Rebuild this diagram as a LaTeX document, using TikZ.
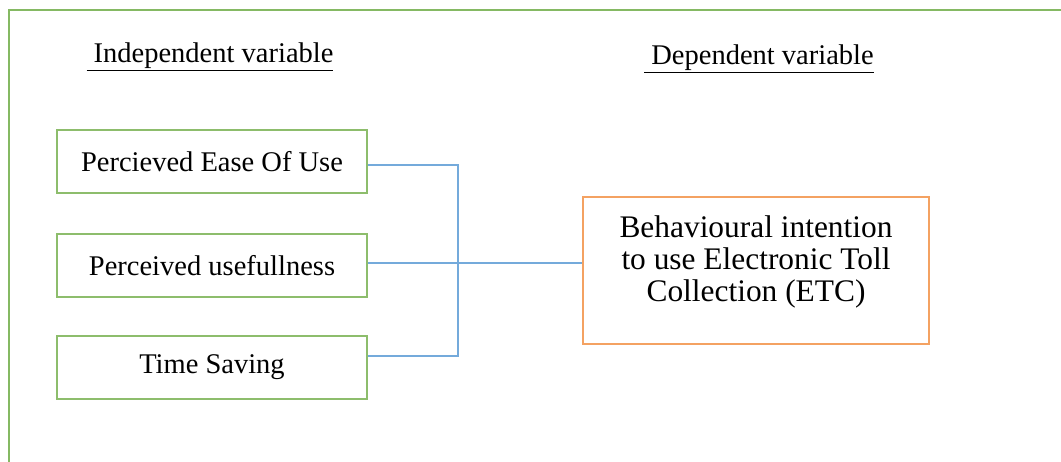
\documentclass[tikz,border=0pt]{standalone}
\usepackage{fontspec}
\setmainfont{Liberation Serif}
\definecolor{framegreen}{HTML}{70AD47}
\definecolor{linkblue}{HTML}{5B9BD5}
\definecolor{etcorange}{HTML}{F4A262}
\begin{document}
\begin{tikzpicture}[x=1pt,y=-1pt,
	varbox/.style={draw=framegreen!80,line width=2pt,minimum width=310,minimum height=63,inner sep=0pt,font=\fontsize{28.5}{32}\selectfont},
	etcbox/.style={draw=etcorange,line width=1.5pt,minimum width=346,minimum height=147,inner sep=0pt,align=center,font=\fontsize{31.4}{32}\selectfont},
	heading/.style={inner sep=0pt,anchor=base,font=\fontsize{28.5}{32}\selectfont},
	link/.style={draw=linkblue!85,line width=2pt}]
	\useasboundingbox (0,0) rectangle (1061,462);
	\draw[framegreen!85,line width=2pt] (1061,10) -- (9,10) -- (9,462);
	\node[heading] (indep) at (210,63) {\underline{\ Independent variable}};
	\node[heading] (dep) at (759,65) {\underline{\ Dependent variable}};
	\node[varbox] (ease) at (212,162) {Percieved Ease Of Use};
	\node[varbox] (useful) at (212,265.5) {Perceived usefullness};
	\node[varbox] (time) at (212,367.5) {Time Saving};
	\node[etcbox] (etc) at (756,270.5) {Behavioural intention\\to use Electronic Toll\\Collection (ETC)\\[-18pt]\strut};
	\coordinate (join) at (458,263);
	\draw[link] ([yshift=-3]ease.east) -| (join) |- ([yshift=11]time.east);
	\draw[link] ([yshift=2.5]useful.east) -- ([yshift=2.5]useful.east -| etc.west);
\end{tikzpicture}
\end{document}
